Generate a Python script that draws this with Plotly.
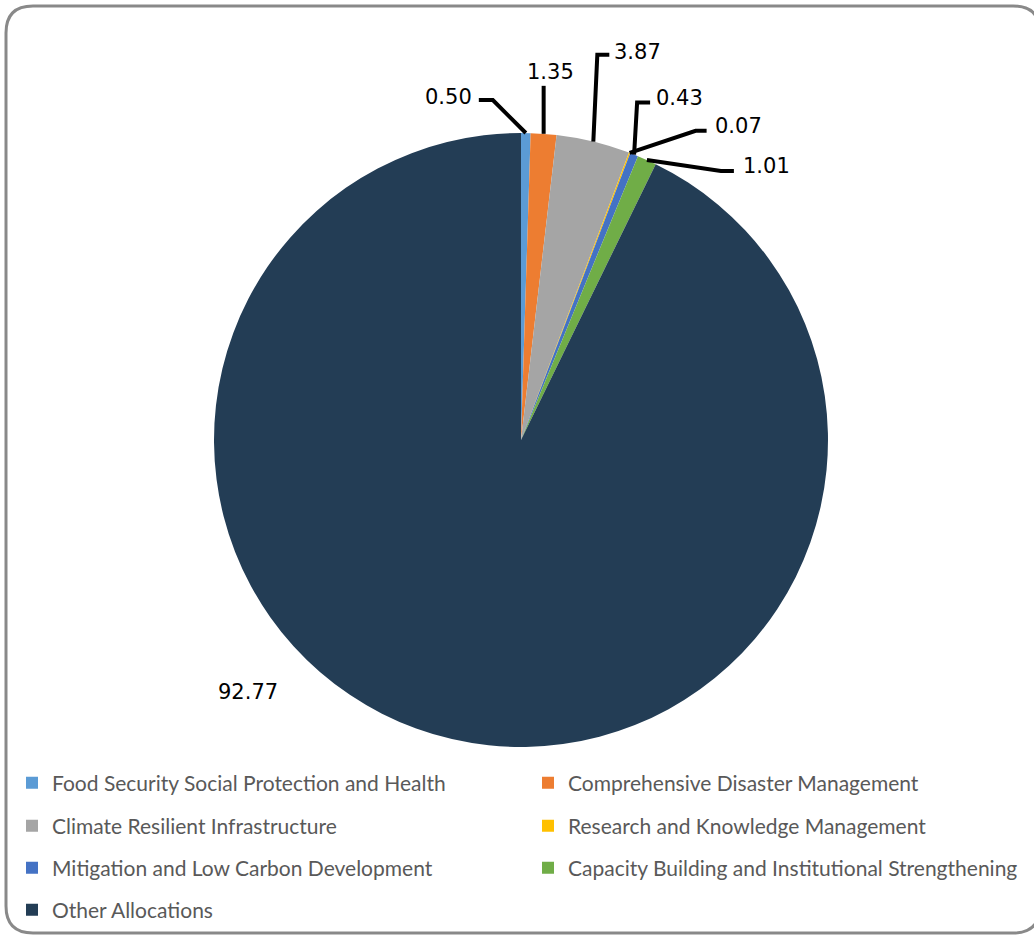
import math
import plotly.graph_objects as go

# ---------------- data ----------------
categories = [
    "Food Security Social Protection and Health",
    "Comprehensive Disaster Management",
    "Climate Resilient Infrastructure",
    "Research and Knowledge Management",
    "Mitigation and Low Carbon Development",
    "Capacity Building and Institutional Strengthening",
    "Other Allocations",
]
values = [0.50, 1.35, 3.87, 0.07, 0.43, 1.01, 92.77]
colors = ["#5B9BD5", "#ED7D31", "#A5A5A5", "#FFC000", "#4472C4", "#70AD47", "#233D55"]

# ---------------- layout constants ----------------
W, H = 1034, 935
CX, CY, R = 521, 440, 307

# leader-line / label offsets (px) relative to slice edge point:
# (elbow dx, elbow dy, end dx, end dy, text dx, text dy, xanchor)
LEADERS = [
    (-33, -33, -47, -33, -52, -36, "right"),
    (0, -48, 0, -48, 7, -62, "center"),
    (4, -87, 16, -87, 19, -90, "left"),
    (66, -22, 77, -22, 83, -27, "left"),
    (3, -52, 16, -52, 20, -57, "left"),
    (74, 11, 87, 11, 94, 6, "left"),
    None,
]
BIG_LABEL_OFFSET = (-273, 252)  # relative to pie centre

LEGEND_ROWS = [783, 826, 868, 910]
LEGEND_COLS = [52, 568]
LABEL_FONT = dict(family="DejaVu Sans", size=21, color="black")
LEGEND_FONT = dict(family="Lato", size=21, color="#595959")


def px(x, y):
    return x / W, 1 - y / H


fig = go.Figure()

x0, y1 = px(CX - R, CY - R)
x1, y0 = px(CX + R, CY + R)
fig.add_trace(go.Pie(
    labels=categories,
    values=values,
    marker=dict(colors=colors, line=dict(color="white", width=0)),
    sort=False,
    direction="clockwise",
    rotation=0,
    textinfo="none",
    hoverinfo="label+value",
    showlegend=False,
    domain=dict(x=[x0, x1], y=[y0, y1]),
))

# labels + leader lines computed from the values
total = sum(values)
cum = 0.0
annotations = []
shapes = []
for i, v in enumerate(values):
    theta = 2 * math.pi * (cum + v / 2) / total
    cum += v
    ex = CX + R * math.sin(theta)
    ey = CY - R * math.cos(theta)
    txt = f"{v:.2f}"
    spec = LEADERS[i]
    if spec is None:
        tx, ty = px(CX + BIG_LABEL_OFFSET[0], CY + BIG_LABEL_OFFSET[1])
        annotations.append(dict(x=tx, y=ty, xref="paper", yref="paper", text=txt,
                                showarrow=False, font=LABEL_FONT,
                                xanchor="center", yanchor="middle"))
        continue
    edx, edy, ndx, ndy, tdx, tdy, anc = spec
    p0 = px(ex, ey)
    p1 = px(ex + edx, ey + edy)
    p2 = px(ex + ndx, ey + ndy)
    path = f"M {p0[0]},{p0[1]} L {p1[0]},{p1[1]} L {p2[0]},{p2[1]}"
    shapes.append(dict(type="path", path=path, xref="paper", yref="paper",
                       line=dict(color="black", width=4)))
    tx, ty = px(ex + tdx, ey + tdy)
    annotations.append(dict(x=tx, y=ty, xref="paper", yref="paper", text=txt,
                            showarrow=False, font=LABEL_FONT,
                            xanchor=anc, yanchor="middle"))

# rounded border
bl, bt, br, bb, rad = 6, 6, 1040, 933, 27
def P(x, y):
    a, b = px(x, y)
    return f"{a},{b}"
border = (f"M {P(bl, bt + rad)} Q {P(bl, bt)} {P(bl + rad, bt)} L {P(br - rad, bt)} "
          f"Q {P(br, bt)} {P(br, bt + rad)} L {P(br, bb - rad)} Q {P(br, bb)} {P(br - rad, bb)} "
          f"L {P(bl + rad, bb)} Q {P(bl, bb)} {P(bl, bb - rad)} Z")
shapes.append(dict(type="path", path=border, xref="paper", yref="paper",
                   line=dict(color="#898989", width=3), layer="above"))

# legend: one legend per entry, placed on a 2-column grid
legend_layouts = {}
for i, (cat, col) in enumerate(zip(categories, colors)):
    key = "legend" if i == 0 else f"legend{i + 1}"
    fig.add_trace(go.Scatter(
        x=[None], y=[None], mode="markers", name=cat,
        marker=dict(symbol="square", size=12, color=col),
        legend=key, showlegend=True, hoverinfo="skip",
    ))
    row, c = divmod(i, 2)
    lx, ly = px(LEGEND_COLS[c] - 40, LEGEND_ROWS[row])
    legend_layouts[key] = dict(x=lx, y=ly, xanchor="left", yanchor="middle",
                               bgcolor="rgba(0,0,0,0)", font=LEGEND_FONT,
                               itemwidth=30, borderwidth=0)

fig.update_layout(
    width=W, height=H,
    margin=dict(l=0, r=0, t=0, b=0),
    paper_bgcolor="white",
    plot_bgcolor="white",
    xaxis=dict(visible=False),
    yaxis=dict(visible=False),
    annotations=annotations,
    shapes=shapes,
    **legend_layouts,
)

fig.write_html("out.html")
